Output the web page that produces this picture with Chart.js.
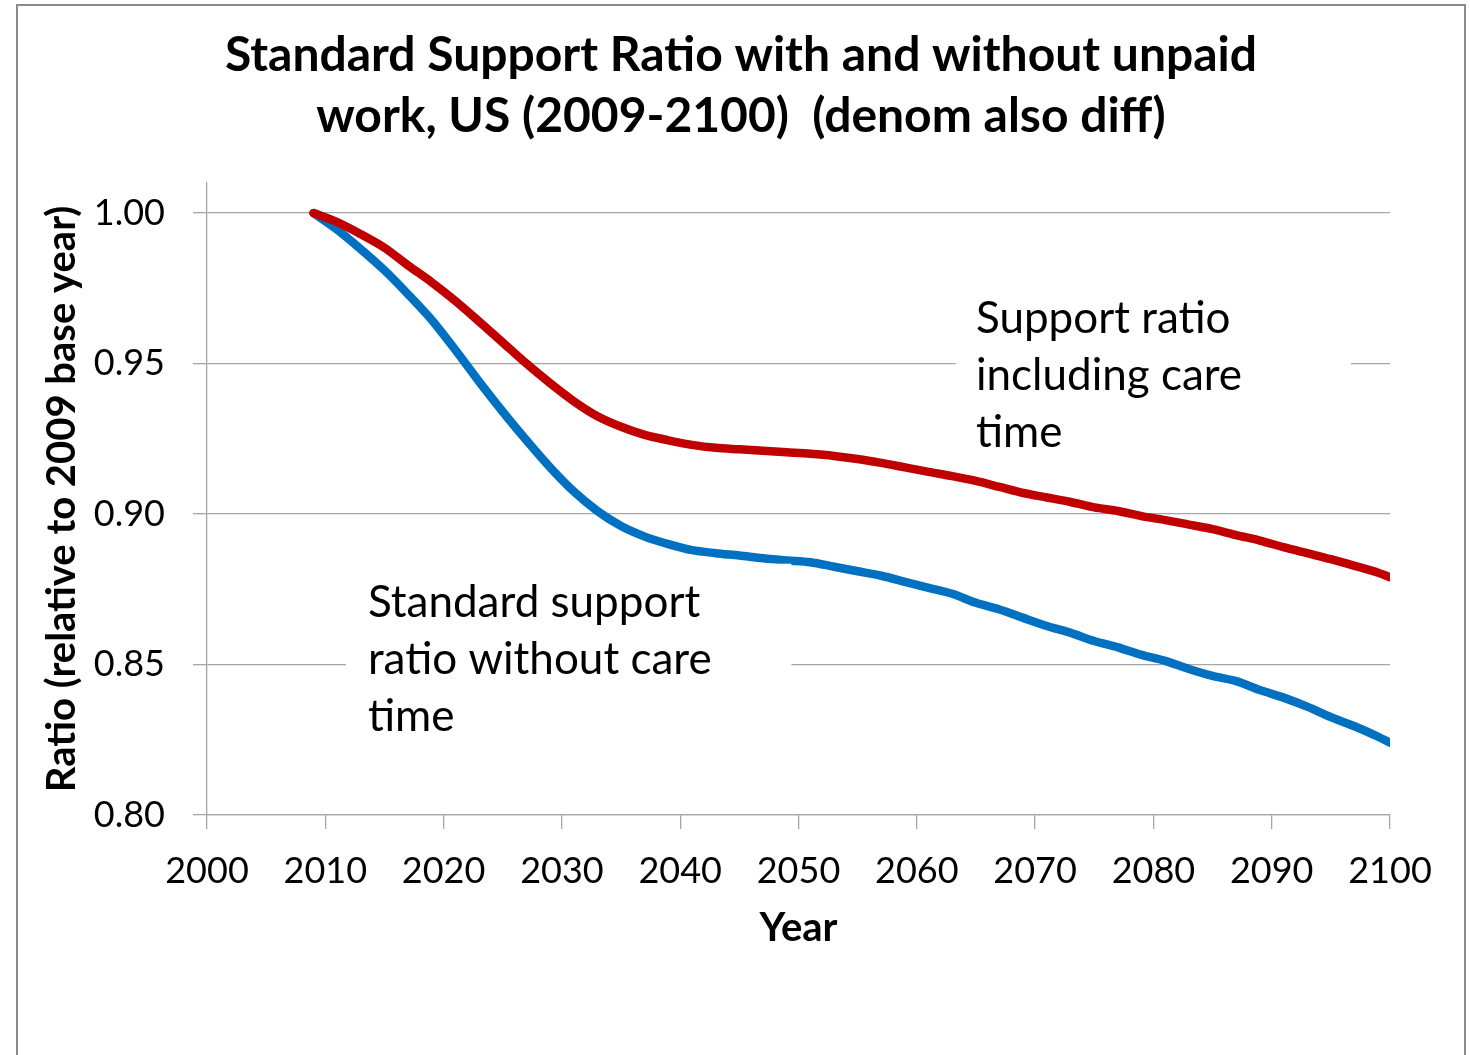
<!DOCTYPE html>
<html>
<head>
<meta charset="utf-8">
<title>Standard Support Ratio, US 2009-2100</title>
<script src="https://cdn.jsdelivr.net/npm/chart.js@4.4.1/dist/chart.umd.min.js"></script>
<style>
  html, body { margin: 0; padding: 0; background: #fff; }
  canvas { display: block; }
</style>
</head>
<body>
<canvas id="chart" width="1470" height="1055"></canvas>
<script>
// ratio relative to the 2009 base year
const years = [2009, 2011, 2013, 2015, 2017, 2019, 2021, 2023, 2025, 2027, 2029, 2031, 2033, 2035, 2037, 2039,
  2041, 2043, 2045, 2047, 2049, 2051, 2053, 2055, 2057, 2059, 2061, 2063, 2065, 2067, 2069, 2071,
  2073, 2075, 2077, 2079, 2081, 2083, 2085, 2087, 2089, 2091, 2093, 2095, 2097, 2099, 2100];

const withCare = [1.000, 0.997, 0.993, 0.9885, 0.9826, 0.977, 0.9708, 0.964, 0.957, 0.950, 0.9435, 0.9375, 0.9325, 0.929, 0.9263, 0.9245,
  0.923, 0.922, 0.9215, 0.921, 0.9205, 0.920, 0.9193, 0.9183, 0.917, 0.9155, 0.914, 0.9126, 0.911, 0.909, 0.907, 0.9055,
  0.904, 0.9022, 0.901, 0.8993, 0.898, 0.8965, 0.895, 0.893, 0.8912, 0.889, 0.887, 0.885, 0.8828, 0.8805, 0.879];

const withoutCare = [1.000, 0.9945, 0.988, 0.981, 0.973, 0.9645, 0.9545, 0.944, 0.934, 0.9245, 0.9155, 0.9075, 0.901, 0.896, 0.8925, 0.890,
  0.888, 0.887, 0.8862, 0.8853, 0.8846, 0.884, 0.8825, 0.881, 0.8795, 0.8775, 0.8755, 0.8735, 0.8705, 0.8683, 0.8655, 0.8628,
  0.8605, 0.8578, 0.8557, 0.8532, 0.8512, 0.8485, 0.8462, 0.8445, 0.8415, 0.839, 0.836, 0.8325, 0.8295, 0.826, 0.824];

const xTicks = [2000, 2010, 2020, 2030, 2040, 2050, 2060, 2070, 2080, 2090, 2100];
const yTicks = [0.80, 0.85, 0.90, 0.95, 1.00];

const titleLines = ['Standard Support Ratio with and without unpaid', 'work, US (2009-2100)  (denom also diff)'];
const careLabel = ['Support ratio', 'including care', 'time'];
const noCareLabel = ['Standard support', 'ratio without care', 'time'];

const GRID = '#a6a6a6';
const FONT = 'Lato';

// text boxes placed in data units: text anchor, then box left/right (years) and top/bottom (ratio)
const notes = [
  { lines: careLabel, x: 2065.0, y: 0.9601, box: [2063.3, 2096.7, 0.9744, 0.9186] },
  { lines: noCareLabel, x: 2013.6, y: 0.8658, box: [2011.75, 2049.4, 0.8835, 0.8216] }
];

const framePlugin = {
  id: 'frame',
  beforeDraw(chart) {
    const ctx = chart.ctx;
    ctx.save();
    ctx.fillStyle = '#fff';
    ctx.fillRect(0, 0, chart.width, chart.height);
    ctx.strokeStyle = '#8c8c8c';
    ctx.lineWidth = 2;
    ctx.strokeRect(17, 5, 1448, chart.height + 20);

    ctx.fillStyle = '#000';
    ctx.font = `bold 48px ${FONT}`;
    ctx.textAlign = 'center';
    ctx.textBaseline = 'alphabetic';
    titleLines.forEach((t, i) => ctx.fillText(t, 741, 71 + i * 61));
    ctx.restore();
  }
};

const notesPlugin = {
  id: 'notes',
  afterDatasetsDraw(chart) {
    const { ctx, scales: { x, y } } = chart;
    ctx.save();
    notes.forEach(n => {
      const l = x.getPixelForValue(n.box[0]);
      const r = x.getPixelForValue(n.box[1]);
      const t = y.getPixelForValue(n.box[2]);
      const b = y.getPixelForValue(n.box[3]);
      ctx.fillStyle = '#fff';
      ctx.fillRect(l, t, r - l, b - t);

      ctx.fillStyle = '#000';
      ctx.font = `44px ${FONT}`;
      ctx.textAlign = 'left';
      ctx.textBaseline = 'alphabetic';
      const tx = x.getPixelForValue(n.x);
      const ty = y.getPixelForValue(n.y);
      n.lines.forEach((line, i) => ctx.fillText(line, tx, ty + i * 57));
    });
    ctx.restore();
  }
};

new Chart(document.getElementById('chart'), {
  type: 'line',
  data: {
    datasets: [
      {
        label: 'Support ratio including care time',
        data: years.map((yr, i) => ({ x: yr, y: withCare[i] })),
        borderColor: '#c00000',
        borderWidth: 8.5,
        pointRadius: 0,
        tension: 0.3,
        borderCapStyle: 'round',
        borderJoinStyle: 'round',
        fill: false
      },
      {
        label: 'Standard support ratio without care time',
        data: years.map((yr, i) => ({ x: yr, y: withoutCare[i] })),
        borderColor: '#0070c0',
        borderWidth: 8.5,
        pointRadius: 0,
        tension: 0.3,
        borderCapStyle: 'round',
        borderJoinStyle: 'round',
        fill: false
      }
    ]
  },
  options: {
    responsive: false,
    animation: false,
    layout: { padding: { top: 183, right: 80, left: 0, bottom: 0 } },
    plugins: {
      legend: { display: false },
      tooltip: { enabled: false },
      title: { display: false }
    },
    scales: {
      x: {
        type: 'linear',
        min: 2000,
        max: 2100,
        afterBuildTicks: s => { s.ticks = xTicks.map(v => ({ value: v })); },
        afterFit: s => { s.height = 240; },
        ticks: {
          color: '#000',
          font: { family: FONT, size: 36 },
          padding: 21,
          maxRotation: 0,
          autoSkip: false,
          callback: v => String(v)
        },
        grid: { drawOnChartArea: false, drawTicks: true, tickLength: 14, color: GRID, lineWidth: 1.3 },
        border: { color: GRID, width: 1.3 },
        title: {
          display: true,
          text: 'Year',
          color: '#000',
          font: { family: FONT, size: 40, weight: 'bold' },
          padding: { top: 0, bottom: 103 }
        }
      },
      y: {
        min: 0.80,
        max: 1.01,
        afterBuildTicks: s => { s.ticks = yTicks.map(v => ({ value: v })); },
        afterFit: s => { s.width = 207; },
        ticks: {
          color: '#000',
          font: { family: FONT, size: 36 },
          padding: 28,
          callback: v => v.toFixed(2)
        },
        grid: { color: GRID, lineWidth: 1.3, tickLength: 14 },
        border: { color: GRID, width: 1.3 },
        title: {
          display: true,
          text: 'Ratio (relative to 2009 base year)',
          color: '#000',
          font: { family: FONT, size: 40, weight: 'bold' },
          padding: { top: 38, bottom: 0 }
        }
      }
    }
  },
  plugins: [framePlugin, notesPlugin]
});
</script>
</body>
</html>
